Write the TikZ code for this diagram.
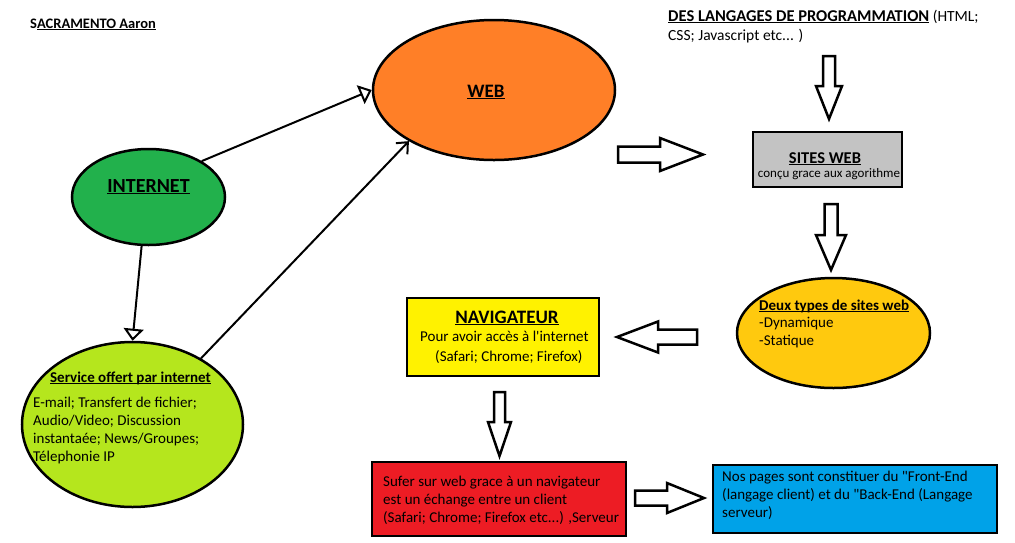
\documentclass[tikz,border=0pt]{standalone}
\usepackage{fontspec}
\setmainfont{Carlito}
\usepackage{xcolor}
\usetikzlibrary{arrows,arrows.meta,shapes,positioning}

\definecolor{vertinternet}{HTML}{22B14C}
\definecolor{orangeweb}{HTML}{FF7F27}
\definecolor{limeservice}{HTML}{B5E61D}
\definecolor{grissites}{HTML}{C3C3C3}
\definecolor{ortypes}{HTML}{FFC90E}
\definecolor{jaunenav}{HTML}{FFF200}
\definecolor{rougesurf}{HTML}{ED1C24}
\definecolor{bleupages}{HTML}{00A2E8}
\newcommand{\souligne}[1]{\underline{\smash{#1}}}

\begin{document}
\begin{tikzpicture}[x = 1pt, y = -1pt,
    bulle/.style = {ellipse, draw, line width = 2.5pt, inner sep = 0pt},
    boite/.style = {rectangle, draw, line width = 2.5pt, inner sep = 0pt},
    texte/.style = {anchor = base west, inner sep = 0pt, align = left, font = \fontsize{15}{18}\selectfont},
    titre/.style = {anchor = base, inner sep = 0pt, font = \bfseries\fontsize{15}{18}\selectfont},
    lien/.style = {line width = 2pt},
    % fleche creuse: longueur, tige, tete, longueur de tete
    pics/fleche/.style n args = {4}{code = {
        \draw[line width = 2.5pt, fill = white, line join = miter]
            (0,0) -- (-#4,#3/2) -- (-#4,#2/2) -- (-#1,#2/2) -- (-#1,-#2/2) -- (-#4,-#2/2) -- (-#4,-#3/2) -- cycle;
    }}]
    \useasboundingbox (0,0) rectangle (1015,542);
    \node[bulle, fill = vertinternet, minimum width = 153, minimum height = 96] (internet) at (148.5,197) {};
    \node[bulle, fill = orangeweb, minimum width = 242, minimum height = 140] (web) at (494,90) {};
    \node[bulle, fill = limeservice, minimum width = 221, minimum height = 165] (service) at (132.5,424.5) {};
    \node[bulle, fill = ortypes, minimum width = 193, minimum height = 110] (types) at (833.5,333) {};
    \node[boite, fill = grissites, minimum width = 149, minimum height = 55] (sites) at (827.5,159.5) {};
    \node[boite, fill = jaunenav, minimum width = 192, minimum height = 78] (navigateur) at (503,337) {};
    \node[boite, fill = rougesurf, minimum width = 254, minimum height = 74] (surfer) at (499,499) {};
    \node[boite, fill = bleupages, minimum width = 284, minimum height = 68] (pages) at (855,499) {};
    % textes
    \node[anchor = base west, inner sep = 0pt, font = \bfseries\fontsize{14.5}{16}\selectfont] (auteur) at (30,28) {S\souligne{ACRAMENTO Aaron}};
    \node[titre, font = \bfseries\fontsize{20}{24}\selectfont] (internet-t) at (148.5,192) {\souligne{INTERNET}};
    \node[titre, font = \bfseries\fontsize{19}{24}\selectfont] (web-t) at (486,97) {\souligne{WEB}};
    \node[titre] (service-t) at (130.5,382) {\souligne{Service offert par internet}};
    \node[texte] (service-l) at (33,461) {E-mail; Transfert de fichier;\\Audio/Video; Discussion\\instantaée; News/Groupes;\\Télephonie IP};
    \node[texte, font = \fontsize{15.5}{19}\selectfont] (langages) at (668,40) {\textbf{\fontsize{16.5}{19}\selectfont\souligne{DES LANGAGES DE PROGRAMMATION}} (HTML;\\CSS; Javascript etc... )};
    \node[titre, font = \bfseries\fontsize{16.5}{18}\selectfont] (sites-t) at (825,163) {\souligne{SITES WEB}};
    \node[titre, font = \fontsize{13}{14}\selectfont] (sites-l) at (829,177) {conçu grace aux agorithme};
    \node[titre, anchor = base west] (types-t) at (759,310) {\souligne{Deux types de sites web}};
    \node[texte] (types-l) at (759,345) {-Dynamique\\-Statique};
    \node[titre, font = \bfseries\fontsize{19}{22}\selectfont] (navigateur-t) at (507,323) {\souligne{NAVIGATEUR}};
    \node[texte, font = \fontsize{15}{20}\selectfont] (navigateur-l) at (420,361) {Pour avoir accès à l\textquotesingle internet\\\hspace*{15pt}(Safari; Chrome; Firefox)};
    \node[texte] (surfer-l) at (383,522) {Sufer sur web grace à un navigateur\\est un échange entre un client\\(Safari; Chrome; Firefox etc...) ,Serveur};
    \node[texte] (pages-l) at (722,517) {Nos pages sont constituer du \textquotedbl Front-End\\(langage client) et du \textquotedbl Back-End (Langage\\serveur)};
    % fleches creuses
    \pic[rotate = -90] (fl-langages) at (829,119) {fleche={63}{12}{26}{33}};
    \pic (fl-web) at (703,154.5) {fleche={85}{16}{33}{43}};
    \pic[rotate = -90] (fl-sites) at (831,270) {fleche={66}{13}{30}{35}};
    \pic[rotate = 180] (fl-types) at (617,337) {fleche={80}{15}{31}{41}};
    \pic[rotate = -90] (fl-navigateur) at (499.5,456) {fleche={64}{11}{23}{34}};
    \pic (fl-surfer) at (704,498) {fleche={69}{15}{30}{37}};
    % liens
    \draw[lien, -{Triangle[open, length = 12pt, width = 20pt]}] (internet.34) -- (web.west);
    \draw[lien, -{Triangle[open, length = 12pt, width = 20pt]}] (internet.262) -- (service.north);
    \draw[lien, -{Straight Barb[length = 9pt, width = 16pt]}] (service.44) -- (web.211);
\end{tikzpicture}
\end{document}
